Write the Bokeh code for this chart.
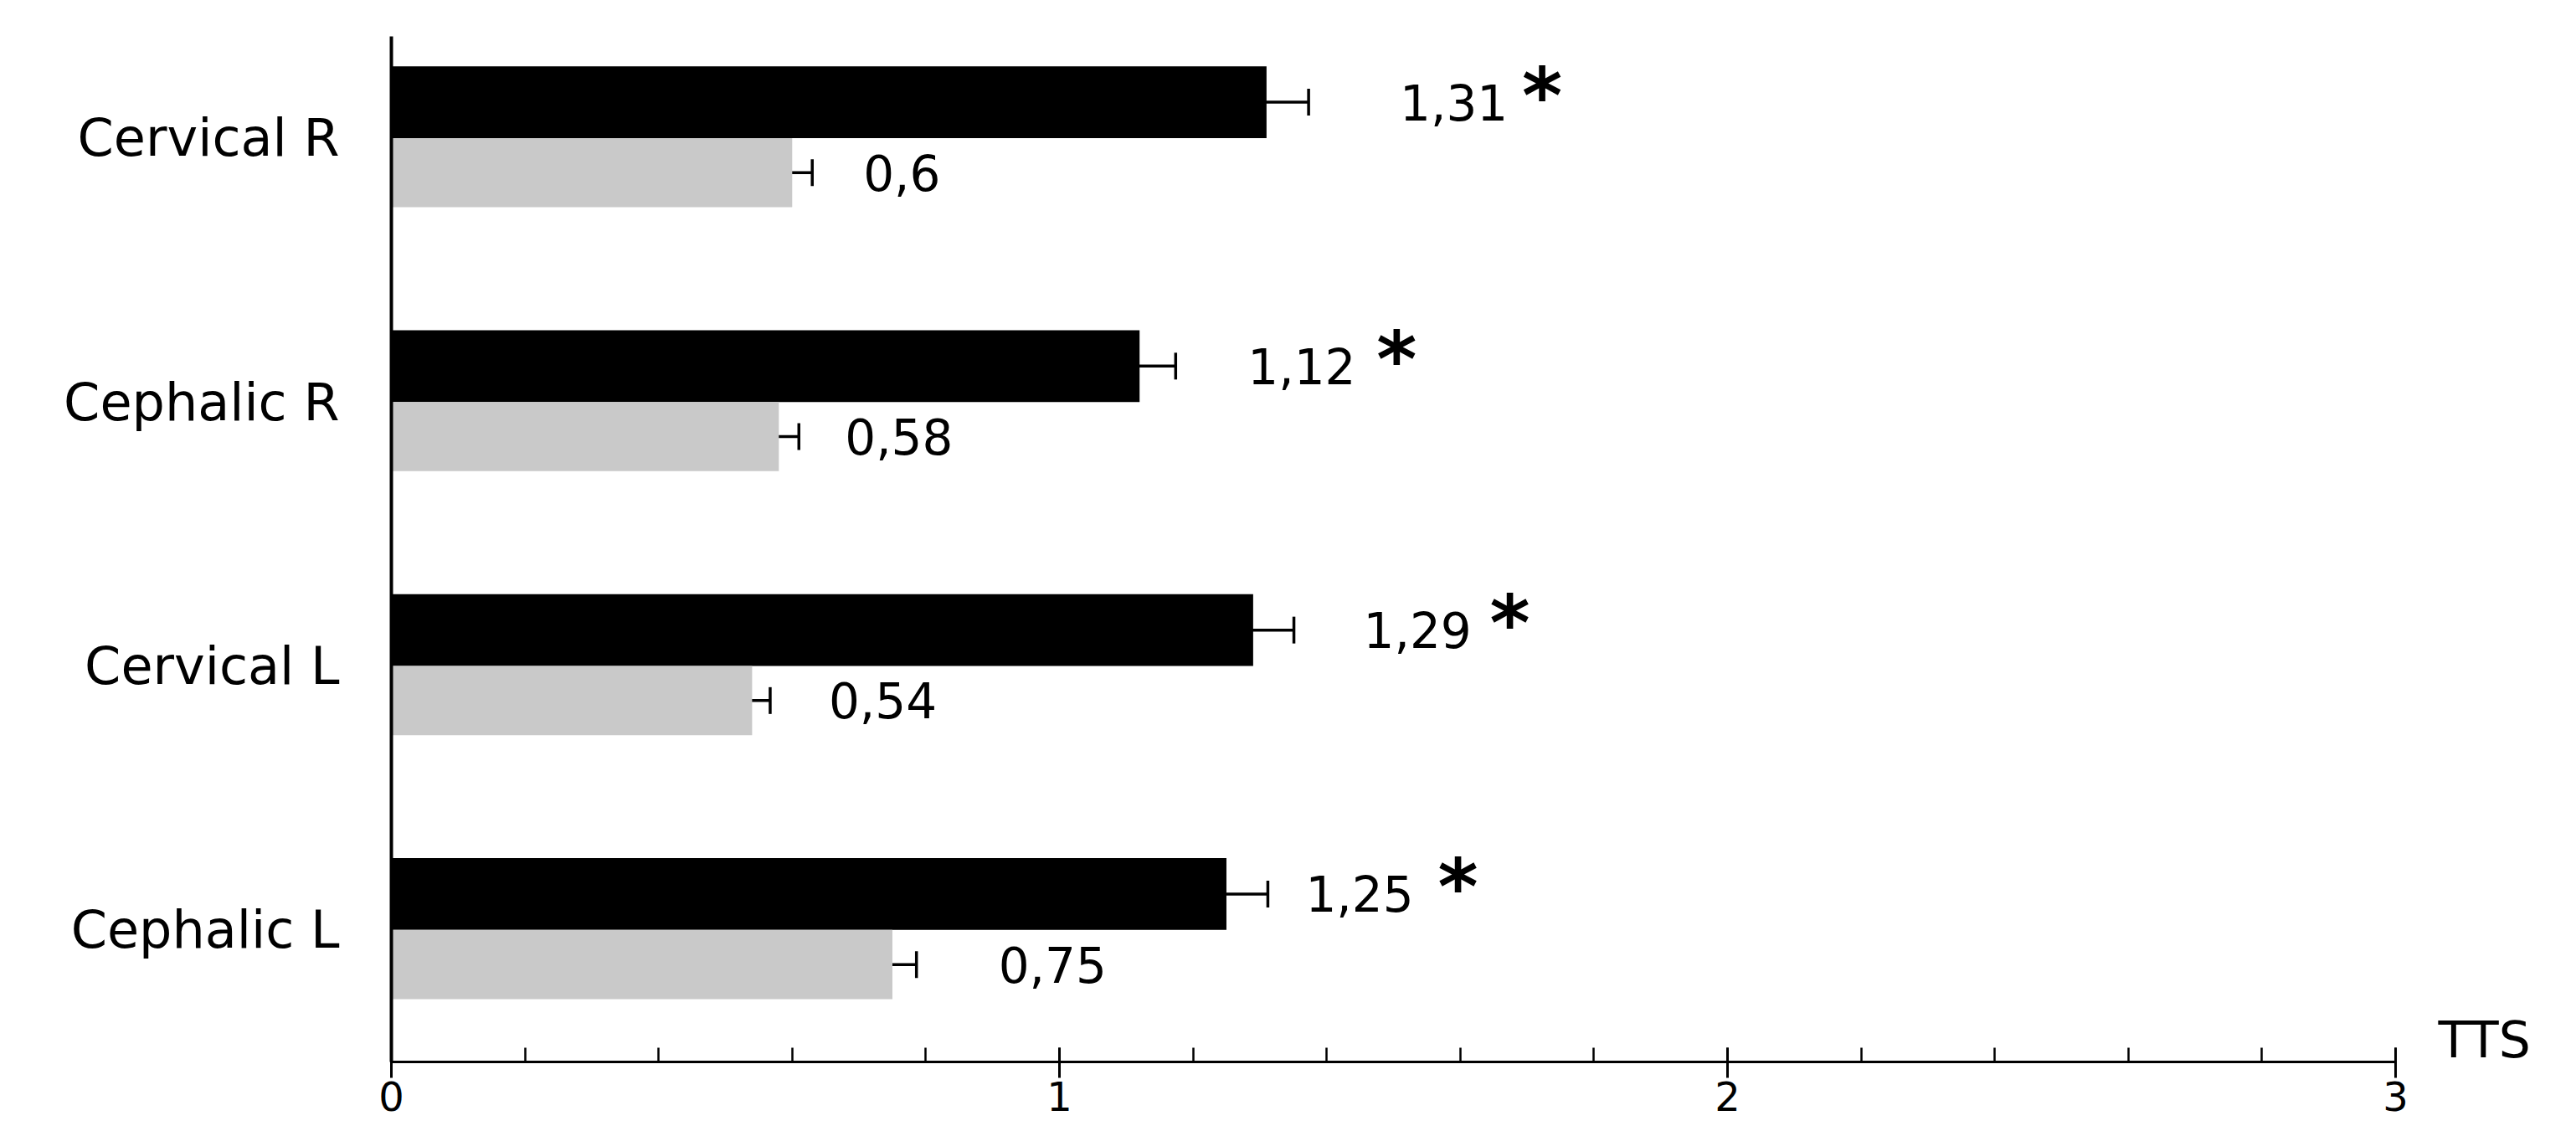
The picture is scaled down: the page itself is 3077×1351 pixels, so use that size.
from bokeh.plotting import figure
from bokeh.models import Range1d, FixedTicker, Whisker, TeeHead, ColumnDataSource, Label
from bokeh.embed import file_html
from bokeh.resources import INLINE
from bokeh.core.properties import value

# ---- data ----
categories = ["Cervical R", "Cephalic R", "Cervical L", "Cephalic L"]
dark_values = [1.31, 1.12, 1.29, 1.25]
dark_errors = [0.063, 0.054, 0.061, 0.062]
light_values = [0.60, 0.58, 0.54, 0.75]
light_errors = [0.030, 0.030, 0.027, 0.036]
dark_labels = ["1,31", "1,12", "1,29", "1,25"]
light_labels = ["0,6", "0,58", "0,54", "0,75"]
significance = ["*", "*", "*", "*"]
x_ticks = [0, 1, 2, 3]
x_title = "TTS"

# ---- layout / style ----
W, H = 3077, 1351
FONT = "DejaVu Sans"
DARK, LIGHT = "#000000", "#c9c9c9"
BAR_DARK_H, BAR_LIGHT_H = 0.272, 0.262
dark_label_pad = [109, 86, 83, 45]     # px from error cap to label
light_label_pad = [61, 55, 70, 98]
star_pad = [255, 240, 234, 203]        # px from error cap to asterisk
X_MAX_VIEW = 3.2708                    # frame extends past the axis end for the "TTS" title

n = len(categories)
centers = [n - i - 0.5 for i in range(n)]
dark_y = [c + BAR_DARK_H / 2 for c in centers]
light_y = [c - BAR_LIGHT_H / 2 for c in centers]

p = figure(width=W, height=H, output_backend="svg", toolbar_location=None,
           x_range=Range1d(0, X_MAX_VIEW), y_range=Range1d(0, 3.885),
           min_border_left=467, min_border_right=0,
           min_border_top=43, min_border_bottom=83)
p.outline_line_color = None
p.xgrid.grid_line_color = None
p.ygrid.grid_line_color = None
p.background_fill_color = "white"

dark_src = ColumnDataSource(dict(
    y=dark_y, v=dark_values,
    lo=[v - e for v, e in zip(dark_values, dark_errors)],
    hi=[v + e for v, e in zip(dark_values, dark_errors)],
    lab=dark_labels, pad=dark_label_pad, star=significance, spad=star_pad))
light_src = ColumnDataSource(dict(
    y=light_y, v=light_values,
    lo=[v - e for v, e in zip(light_values, light_errors)],
    hi=[v + e for v, e in zip(light_values, light_errors)],
    lab=light_labels, pad=light_label_pad))

p.hbar(y="y", left=0, right="v", height=BAR_DARK_H, source=dark_src,
       fill_color=DARK, line_color=None)
p.hbar(y="y", left=0, right="v", height=BAR_LIGHT_H, source=light_src,
       fill_color=LIGHT, line_color=None)

for src in (dark_src, light_src):
    w = Whisker(source=src, base="y", lower="lo", upper="hi", dimension="width",
                line_color="black", line_width=3.5,
                upper_head=TeeHead(size=32, line_width=3.5, line_color="black"),
                lower_head=TeeHead(size=32, line_width=3.5, line_color="black"))
    p.add_layout(w)

p.text(x="hi", y="y", text="lab", source=dark_src, x_offset="pad", y_offset=0,
       text_font=value(FONT), text_font_size="58px", text_baseline="alphabetic",
       text_align="left", text_color="black")
p.text(x="hi", y="y", text="lab", source=light_src, x_offset="pad", y_offset=0,
       text_font=value(FONT), text_font_size="58px", text_baseline="alphabetic",
       text_align="left", text_color="black")
p.text(x="hi", y="y", text="star", source=dark_src, x_offset="spad", y_offset=-7,
       text_font=value(FONT), text_font_size="92px", text_font_style="bold",
       text_baseline="alphabetic", text_align="left", text_color="black")

# x axis
xa = p.xaxis[0]
xa.bounds = (x_ticks[0], x_ticks[-1])
xa.ticker = FixedTicker(ticks=x_ticks, minor_ticks=[i / 5 for i in range(16)])
xa.axis_line_width = 3
xa.axis_line_color = "black"
xa.major_tick_line_width = 3
xa.major_tick_in = 17
xa.major_tick_out = 19
xa.minor_tick_line_width = 2.5
xa.minor_tick_in = 17
xa.minor_tick_out = 0
xa.major_label_text_font = FONT
xa.major_label_text_font_size = "48px"
xa.major_label_text_color = "black"
xa.major_label_standoff = 4

# y axis
ya = p.yaxis[0]
ya.ticker = FixedTicker(ticks=centers, minor_ticks=[])
ya.major_label_overrides = {c: lab for c, lab in zip(centers, categories)}
ya.axis_line_width = 4
ya.axis_line_color = "black"
ya.major_tick_in = 0
ya.major_tick_out = 0
ya.minor_tick_line_color = None
ya.major_label_text_font = FONT
ya.major_label_text_font_size = "62px"
ya.major_label_text_color = "black"
ya.major_label_standoff = 62

tts = Label(x=x_ticks[-1], y=0, x_units="data", y_units="data", text=x_title,
            x_offset=51, y_offset=27, text_font=FONT, level="overlay",
            text_font_size="60px", text_baseline="alphabetic",
            text_align="left", text_color="black")
p.add_layout(tts)

open("out.html", "w").write(file_html(p, INLINE))
